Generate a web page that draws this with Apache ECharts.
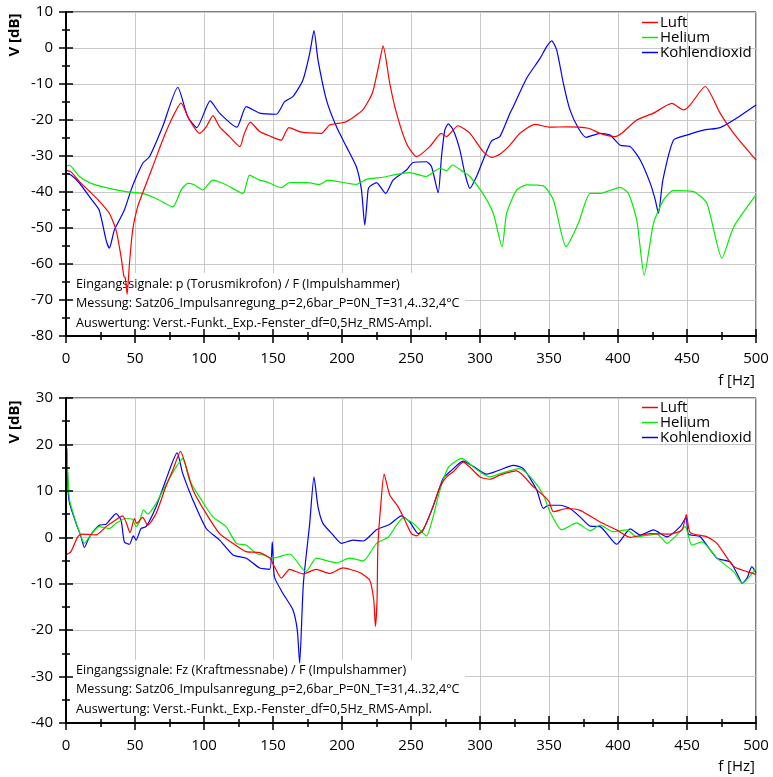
<!DOCTYPE html>
<html>
<head>
<meta charset="utf-8">
<script src="https://cdn.jsdelivr.net/npm/echarts@6/dist/echarts.min.js"></script>
<style>
  html, body { margin: 0; padding: 0; background: #fff; }
  #chart { width: 773px; height: 777px; }
</style>
</head>
<body>
<div id="chart"></div>
<script>
// Verstärkungsfunktionen, oben: Torusmikrofon, unten: Kraftmessnabe
const seriesNames = ['Luft', 'Helium', 'Kohlendioxid']
const seriesColors = ['#ff0000', '#00ee00', '#0000ff']

const xTicks = [0, 500, 50]        // min, max, interval [Hz]
const yTicksTop = [-80, 10, 10]
const yTicksBottom = [-40, 30, 10]

const notesTop = [
  'Eingangssignale: p (Torusmikrofon) / F (Impulshammer)',
  'Messung: Satz06_Impulsanregung_p=2,6bar_P=0N_T=31,4..32,4°C',
  'Auswertung: Verst.-Funkt._Exp.-Fenster_df=0,5Hz_RMS-Ampl.'
]
const notesBottom = [
  'Eingangssignale: Fz (Kraftmessnabe) / F (Impulshammer)',
  'Messung: Satz06_Impulsanregung_p=2,6bar_P=0N_T=31,4..32,4°C',
  'Auswertung: Verst.-Funkt._Exp.-Fenster_df=0,5Hz_RMS-Ampl.'
]

// oberes Diagramm [f Hz, V dB]
const topLuft = [[0,-34],[3.6,-34.4],[9.7,-37.1],[17,-39.8],[24,-42.5],[31.4,-45.9],[36.3,-50.6],[39.9,-58],[42,-63.5],[43,-63.9],[44.3,-68.4],[46,-59.8],[48.3,-50.6],[52,-44],[55.6,-40.2],[62.8,-33],[70,-25.6],[77.4,-19.1],[83.4,-15.3],[89.5,-20],[96.7,-23.7],[101.6,-21.9],[106.5,-18.8],[111.3,-21.9],[118.5,-24.6],[126,-27.4],[129,-24],[133.5,-20.6],[140.3,-23.2],[148,-24.5],[156,-25.6],[159,-23.5],[161.5,-22.1],[170,-23.3],[185,-23.7],[191,-21.4],[203,-20.5],[215,-17.2],[222,-12.5],[227,-4.2],[229.8,0.6],[234.6,-9.8],[239.5,-18.1],[246.7,-26.5],[254,-30.2],[263.6,-27.4],[272,-23.7],[275.8,-24.6],[284,-21.6],[292.7,-23.7],[302.3,-28.8],[308.4,-30.4],[314.4,-29.5],[321.7,-27],[328.9,-23.7],[339.8,-21.2],[350.7,-22],[362.8,-21.9],[378.5,-22.3],[387,-23.7],[397.9,-24.6],[402.7,-23.7],[413.6,-20],[425.7,-18.1],[439,-15.4],[447.5,-17.2],[452.3,-15.8],[463.2,-10.7],[474,-18.1],[483.8,-23.7],[500,-31.1]]
const topHelium = [[0,-33],[2.4,-32.5],[9.7,-35.7],[17,-37.4],[29,-38.8],[43.5,-39.9],[50.8,-40.2],[55.6,-40.4],[65.3,-41.8],[77.4,-44.1],[83.5,-39.4],[88.2,-37.6],[93,-38],[99,-39.4],[106.4,-36.7],[116,-38],[128.2,-40.4],[133,-35.3],[140,-36.7],[145,-37.1],[156,-38.8],[162,-37.4],[175,-37.4],[183.8,-37.9],[189.8,-36.7],[210.4,-37.9],[217.7,-36.5],[229.8,-35.9],[239.5,-35.1],[249,-34.6],[261,-35.7],[271,-33.4],[275.8,-34.1],[280,-32.5],[287.8,-34.4],[292.7,-35.7],[302,-40.4],[309.6,-45.9],[316,-55.2],[319.3,-45.9],[326.6,-39.4],[333.8,-38],[345.9,-38.3],[353.2,-42.2],[362.4,-55.2],[371.3,-48.7],[379.8,-40.4],[387,-40.4],[401.6,-38.7],[407.6,-40.4],[413.6,-47.8],[419,-63.1],[425.7,-48.7],[433,-42.2],[440,-39.6],[454.7,-39.9],[464.4,-43.1],[475.3,-58.4],[483.8,-49.7],[500,-40.8]]
const topCO2 = [[0,-34.8],[3.6,-35.3],[9.7,-37.5],[17,-41.3],[24,-45],[29,-53.3],[31.4,-55.6],[35,-50.6],[38.7,-47.8],[42.3,-45],[47.2,-39.4],[49.6,-37],[55.6,-32],[60.5,-30.2],[70,-21.9],[81,-10.9],[88.2,-19.1],[94.8,-22.1],[104.5,-14.7],[111.3,-18.1],[123.8,-22],[130.6,-16.3],[140.3,-18.1],[152.4,-18.4],[158.4,-14.9],[164.4,-13.5],[171.7,-8.9],[176.6,-1.5],[179.7,4.8],[182.6,-3.3],[188.7,-14.4],[196,-21.9],[203.2,-27.4],[210.4,-33],[214.1,-39.4],[216.5,-49.2],[218.9,-39.4],[220,-38.5],[225,-37.4],[231.7,-40.4],[237,-36.7],[246.7,-33.9],[251.5,-31.8],[261.2,-31.6],[264.9,-33],[269.7,-40.2],[272.1,-30.2],[274.5,-22.8],[277,-21.1],[280.6,-22.8],[285.4,-28.3],[289,-34.8],[292.7,-39],[297.5,-35.7],[302.3,-31.1],[308.4,-25.8],[314.4,-24.6],[321.7,-18.1],[324.1,-16.3],[333.8,-8.4],[343.5,-2.9],[348.3,0.4],[352,2],[355.6,-0.6],[360.4,-9.8],[365.2,-17.2],[371.3,-22.3],[376.9,-24.8],[387,-23.7],[394.3,-24.2],[401.6,-27],[408.9,-27.4],[416.1,-31.1],[423.4,-37.6],[427,-42.2],[429.3,-45.9],[432.5,-36.7],[440.2,-25.6],[449.9,-24.2],[462,-22.8],[474,-22.1],[483.8,-20],[500,-15.8]]

// unteres Diagramm [f Hz, V dB]
const botLuft = [[0,-3.8],[3.6,-3.1],[8.5,0.1],[12,0.7],[21.8,0.5],[29,2.3],[36.3,3.8],[41,4.6],[43.5,3.3],[46.4,1],[49.6,4],[51.2,3],[55.6,4.3],[59.2,2.6],[65.3,5.1],[72.3,10.9],[77.4,14.5],[83,18.5],[87,15.2],[92,10.2],[101.6,5.1],[111.3,0.8],[121,-1.3],[130.6,-3.1],[140.3,-3.3],[147.6,-4.5],[151,-6.3],[156,-8.8],[162,-6.9],[171.7,-7.9],[181.4,-6.9],[191,-7.8],[200.7,-6.6],[212.8,-7.6],[220,-9.2],[223,-13.5],[224.2,-19.2],[225.4,-13.5],[226,-2],[228,6.6],[230.5,13.6],[234.6,9.1],[240.6,6.6],[245.5,3.7],[250.3,0.8],[254,0.3],[258.8,1.6],[264.9,5.8],[271,10.9],[275.8,13],[280.6,14.1],[287.8,16.2],[300,13],[307.2,12.5],[314.4,13.4],[326.6,14.3],[338.6,10.9],[347,8.7],[350.2,7.6],[353.2,5.5],[362.8,6.2],[372.5,5.8],[387,3.3],[399,1.6],[408.9,0],[423.4,0.8],[437.9,0.7],[446.4,1.6],[449.5,4.9],[452.3,1],[464.4,0.1],[471.7,-1.3],[483.8,-6.3],[493.5,-7.4],[500,-8]]
const botHelium = [[0.6,19],[1.5,12.3],[2.6,8],[6,4.4],[9.7,1.2],[13.3,-1.3],[17,0.1],[24,2.3],[31.4,1.9],[36.3,3],[43.5,4.1],[48.3,3.8],[50.8,2.3],[53.2,3.3],[56.1,5.9],[59.2,5],[65.3,7.3],[75,12.7],[84.6,17],[89.5,12.3],[96.7,8.7],[106.4,4.4],[116,2.3],[123.4,-1.3],[130.6,-1.7],[137.9,-3.5],[142.7,-3.8],[150,-4.5],[162,-3.6],[173.7,-7.4],[181.4,-4.5],[196,-5.5],[205.6,-4.5],[215.3,-5.1],[225,-1.3],[233.4,0],[239.5,2.6],[244.3,4.2],[251.5,3],[256.4,1.6],[261.2,0.3],[266,4.4],[271,10.2],[277,15],[286.7,17],[297.5,14.6],[307.2,13],[314.4,13.7],[328.9,14.8],[338.6,12.3],[345.9,9.1],[350.7,5.5],[359.2,1.6],[370,3.1],[379.8,1.4],[387,2.6],[396.7,1.2],[406.4,1.6],[413.6,0.1],[428.2,0.7],[435.4,-1.3],[442.7,0.5],[448.7,2.3],[453.5,-1.7],[460.8,-1],[471.7,-4.5],[483.8,-7.4],[490,-9.9],[500,-6.7]]
const botCO2 = [[0.6,19.1],[1.5,10.2],[2.6,7.3],[7.3,3],[10.9,0.1],[13.3,-2.2],[17,0.1],[24,2.6],[29,2.8],[36.3,5.1],[39.9,3.7],[42.3,-1],[46,-1.5],[48.8,0.3],[50.8,-0.6],[54.4,1.9],[58,2.3],[65.3,6.6],[72.3,12.3],[80.5,18.2],[84.6,13.7],[92,8],[101.6,1.9],[111.3,-0.6],[121,-3.8],[130.6,-4.5],[140.3,-6.6],[147.6,-6.9],[149.5,-1],[151,-8.5],[157.2,-12.1],[164.4,-15.6],[167.6,-20],[169.3,-27.1],[172,-10],[176.6,3],[179.7,13],[182.6,6.6],[186.2,3],[193.5,0.5],[199.6,-1.3],[208,-0.6],[215.3,-0.8],[225,1.6],[234.6,2.8],[243.1,4.6],[249.1,3.3],[255.2,0.8],[258.8,1.6],[266,6.6],[273.3,12.7],[278.2,14.1],[287.8,16.4],[295,15.3],[304.8,13.6],[314.4,14.5],[324.1,15.5],[331.4,14.8],[341.1,10.2],[345.9,6.2],[349.5,6.9],[358,6.9],[365.2,6.2],[372.5,4.4],[379.8,2.4],[387,2.3],[399,-1.5],[408.9,1.8],[416.1,0.5],[425.7,1.6],[435.4,0.1],[445,2.3],[449.4,4.3],[451,0.7],[459.5,0.1],[471.7,-4.5],[481.3,-5.3],[487.4,-8.5],[490,-9.9],[493.5,-8.8],[497,-6.3],[500,-7.6]]

const FONT = '"Open Sans", sans-serif'
const chart = echarts.init(document.getElementById('chart'))

const tickStyle = { color: '#000', width: 1.5 }

// je Achse zwei Kopien: Beschriftung + Gitter unten, Achslinie + Ticks oben drauf
const makeAxes = (gi, range, dim) => {
  const base = {
    gridIndex: gi, type: 'value',
    min: range[0], max: range[1], interval: range[2],
    position: dim === 'x' ? 'bottom' : 'left'
  }
  return [
    {
      ...base,
      z: 0,
      axisLine: { show: false, onZero: false },
      axisTick: { show: true, length: 7, lineStyle: tickStyle },
      minorTick: { show: true, splitNumber: 2, length: 4, lineStyle: tickStyle },
      axisLabel: { color: '#000', fontSize: 15, fontFamily: FONT, margin: dim === 'x' ? 15 : 13 },
      splitLine: { show: true, lineStyle: { color: '#c8c8c8', width: 1 } }
    },
    {
      ...base,
      z: 6,
      axisLine: { show: true, onZero: false, lineStyle: { color: '#000', width: 2 } },
      axisTick: { show: true, inside: true, length: 7, lineStyle: tickStyle },
      minorTick: { show: true, splitNumber: 2, length: 4, lineStyle: tickStyle },
      axisLabel: { show: false },
      splitLine: { show: false }
    }
  ]
}

const panelSeries = (gi, datasets) => datasets.map((d, i) => ({
  name: seriesNames[i],
  type: 'line',
  xAxisIndex: gi * 2,
  yAxisIndex: gi * 2,
  data: d,
  showSymbol: false,
  symbol: 'none',
  smooth: 0.2,
  lineStyle: { width: 1.2, color: seriesColors[i] },
  itemStyle: { color: seriesColors[i] },
  z: 3 - i + 2
}))

const legendFor = (top) => ({
  data: seriesNames,
  orient: 'vertical',
  left: 642,
  top: top,
  padding: 0,
  itemGap: 0,
  icon: 'rect',
  itemWidth: 16,
  itemHeight: 1.5,
  textStyle: { fontSize: 15, fontFamily: FONT, color: '#000', lineHeight: 15, padding: [0, 0, 0, -3] }
})

// weißer Kasten hinter dem Kommentar verdeckt das Gitter, nicht die Kurven
const noteBlock = (lines, y0, boxTop, boxBottom) => [
  { type: 'rect', z: 1, shape: { x: 67, y: boxTop, width: 398, height: boxBottom - boxTop },
    style: { fill: '#fff' } },
  ...lines.map((t, i) => ({
    type: 'text', z: 1, x: 76, y: y0 + i * 19.5,
    style: { text: t, fontSize: 12.6, fontFamily: FONT, fill: '#000', textVerticalAlign: 'middle' }
  }))
]

const titleText = (txt, x, y, rot, align, bold) => ({
  type: 'text', x: x, y: y, rotation: rot,
  style: {
    text: txt, fontSize: 15, fontFamily: FONT, fontWeight: bold ? 'bold' : 'normal',
    fill: '#000', textAlign: align, textVerticalAlign: 'middle'
  }
})

const option = {
  animation: false,
  backgroundColor: '#fff',
  grid: [
    { left: 66, top: 12, width: 690, height: 324, show: true, borderColor: '#000', borderWidth: 1 },
    { left: 66, top: 398, width: 690, height: 325, show: true, borderColor: '#000', borderWidth: 1 }
  ],
  xAxis: [...makeAxes(0, xTicks, 'x'), ...makeAxes(1, xTicks, 'x')],
  yAxis: [...makeAxes(0, yTicksTop, 'y'), ...makeAxes(1, yTicksBottom, 'y')],
  legend: [legendFor(15), legendFor(400)],
  series: [
    ...panelSeries(0, [topLuft, topHelium, topCO2]),
    ...panelSeries(1, [botLuft, botHelium, botCO2])
  ],
  graphic: [
    titleText('V [dB]', 15, 35, Math.PI / 2, 'center', true),
    titleText('V [dB]', 15, 422, Math.PI / 2, 'center', true),
    titleText('f [Hz]', 755, 381, 0, 'right', false),
    titleText('f [Hz]', 755, 767, 0, 'right', false),
    ...noteBlock(notesTop, 284, 273, 335),
    ...noteBlock(notesBottom, 670, 660, 722)
  ]
}

chart.setOption(option)
</script>
</body>
</html>
